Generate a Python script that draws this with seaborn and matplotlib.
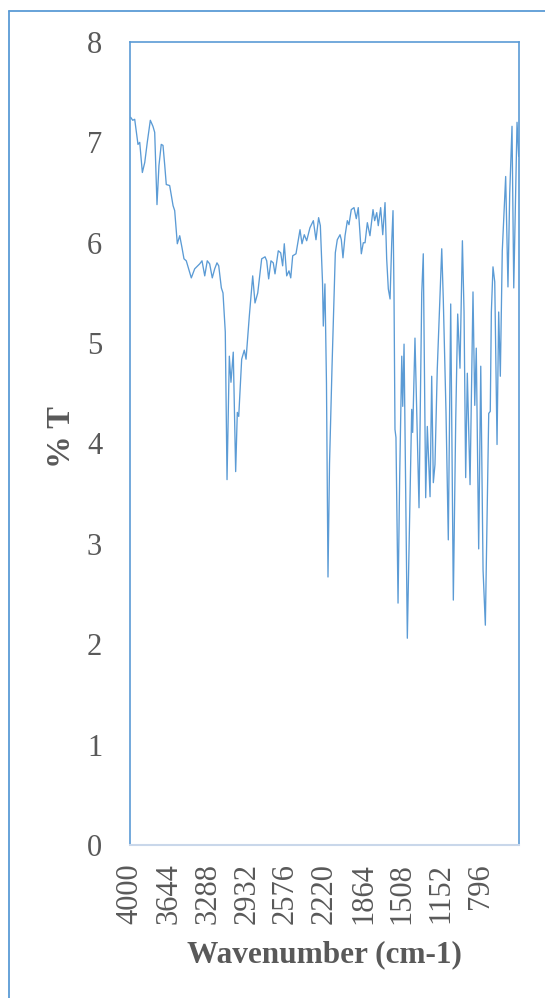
import numpy as np
import pandas as pd
import seaborn as sns
import matplotlib
matplotlib.use("Agg")
import matplotlib.pyplot as plt
from matplotlib.lines import Line2D

# Wavenumber (cm-1) and % T
wavenumber = [
    3994, 3975, 3957, 3927, 3911, 3887, 3865, 3842, 3814, 3790, 3774, 3753, 3735,
    3714, 3698, 3682, 3668, 3637, 3606, 3591, 3567, 3545, 3524, 3506, 3485, 3439,
    3408, 3362, 3341, 3316, 3293, 3271, 3247, 3225, 3204, 3188, 3164, 3149, 3128,
    3112, 3091, 3076, 3055, 3033, 3018, 3005, 2978, 2954, 2938, 2908, 2877, 2856,
    2831, 2795, 2764, 2749, 2731, 2710, 2689, 2673, 2643, 2621, 2603, 2588, 2566,
    2545, 2529, 2511, 2481, 2444, 2426, 2405, 2383, 2353, 2322, 2298, 2274, 2258,
    2238, 2231, 2216, 2202, 2188, 2174, 2151, 2121, 2103, 2078, 2066, 2051, 2032,
    2011, 1996, 1975, 1950, 1929, 1911, 1883, 1865, 1849, 1828, 1804, 1776, 1761,
    1742, 1728, 1706, 1687, 1666, 1651, 1636, 1620, 1605, 1593, 1584, 1575, 1566,
    1547, 1532, 1513, 1504, 1492, 1462, 1422, 1413, 1392, 1355, 1330, 1316, 1294,
    1279, 1254, 1239, 1224, 1209, 1188, 1147, 1133, 1108, 1087, 1065, 1041, 1019,
    1001, 980, 958, 943, 928, 913, 888, 861, 845, 831, 809, 790, 769, 748, 717,
    703, 693, 678, 662, 641, 626, 611, 593, 562, 541, 525, 504, 488, 458, 443,
]
transmittance = [
    7.25, 7.22, 7.23, 6.98, 7.00, 6.70, 6.80, 7.00, 7.22, 7.16, 7.10, 6.38, 6.77,
    6.98, 6.97, 6.77, 6.58, 6.57, 6.37, 6.32, 5.99, 6.07, 5.95, 5.84, 5.82, 5.65,
    5.74, 5.79, 5.82, 5.67, 5.82, 5.79, 5.65, 5.74, 5.80, 5.77, 5.55, 5.50, 5.11,
    3.64, 4.87, 4.61, 4.91, 3.72, 4.31, 4.27, 4.84, 4.93, 4.84, 5.27, 5.67, 5.40,
    5.50, 5.84, 5.86, 5.82, 5.64, 5.82, 5.80, 5.69, 5.92, 5.90, 5.77, 5.99, 5.67,
    5.72, 5.65, 5.87, 5.89, 6.13, 5.99, 6.08, 6.02, 6.15, 6.22, 6.03, 6.25, 6.17,
    5.60, 5.17, 5.59, 4.60, 2.67, 3.80, 4.77, 5.90, 6.03, 6.08, 6.03, 5.85, 6.07,
    6.22, 6.18, 6.33, 6.35, 6.24, 6.35, 5.89, 6.00, 6.00, 6.20, 6.07, 6.33, 6.22,
    6.30, 6.17, 6.35, 6.08, 6.40, 5.84, 5.54, 5.44, 6.00, 6.32, 5.50, 4.14, 4.06,
    2.41, 3.67, 4.87, 4.37, 4.99, 2.06, 4.34, 4.11, 5.05, 3.36, 5.50, 5.89, 3.46,
    4.17, 3.47, 4.67, 3.61, 3.79, 4.74, 5.94, 5.44, 4.31, 3.04, 5.39, 2.44, 4.24,
    5.29, 4.75, 6.02, 5.31, 3.66, 4.70, 3.59, 5.51, 4.38, 4.95, 2.95, 4.77, 2.74,
    2.19, 4.30, 4.32, 5.31, 5.76, 5.61, 3.99, 5.31, 4.67, 5.92, 6.66, 5.56, 6.49,
    7.16, 5.55, 7.20, 6.86,
]
x_ticks = [4000, 3644, 3288, 2932, 2576, 2220, 1864, 1508, 1152, 796]
y_ticks = [0, 1, 2, 3, 4, 5, 6, 7, 8]
x_label = "Wavenumber (cm-1)"
y_label = "% T"

df = pd.DataFrame({"wn": wavenumber, "T": transmittance})

sns.set_theme(style="white")
plt.rcParams["font.family"] = ["Liberation Serif", "DejaVu Serif"]

W, H = 545, 998
fig = plt.figure(figsize=(W / 100, H / 100), dpi=100)
fig.patch.set_facecolor("white")
ax = fig.add_axes([130 / W, (H - 845) / H, 389 / W, (845 - 42) / H])

blue = "#5B9BD5"
sns.lineplot(data=df, x="wn", y="T", ax=ax, color=blue, linewidth=0.95,
             estimator=None, sort=False)

ax.set_xlim(4000, 440)
ax.set_ylim(0, 8)
ax.set_xticks(x_ticks)
ax.set_xticklabels([str(t) for t in x_ticks], rotation=90)
ax.set_yticks(y_ticks)
ax.set_yticklabels([str(t) for t in y_ticks])
ax.tick_params(axis="both", length=0, labelsize=22, labelcolor="#595959")
ax.tick_params(axis="y", pad=20)
ax.tick_params(axis="x", pad=13)

ax.set_xlabel(x_label, fontsize=22.5, fontweight="bold", color="#595959")
ax.xaxis.set_label_coords(0.5, -(955 - 845) / (845 - 42), transform=ax.transAxes)
ax.xaxis.label.set_va("center")
ax.set_ylabel(y_label, fontsize=23.5, fontweight="bold", color="#595959")
ax.yaxis.set_label_coords(-(130 - 62) / 389, (845 - 437) / (845 - 42), transform=ax.transAxes)
ax.yaxis.label.set_va("center")

for side in ["left", "top", "right"]:
    ax.spines[side].set_color(blue)
    ax.spines[side].set_linewidth(1.2)
ax.spines["bottom"].set_color("#C9D7EA")
ax.spines["bottom"].set_linewidth(1.5)
ax.grid(False)

# outer chart border (left and top edges visible)
fig.add_artist(Line2D([8.5 / W, 8.5 / W], [0, (H - 10.5) / H], transform=fig.transFigure,
                      color=blue, linewidth=1.3))
fig.add_artist(Line2D([8.5 / W, 1.0], [(H - 10.5) / H, (H - 10.5) / H],
                      transform=fig.transFigure, color=blue, linewidth=1.3))

fig.savefig("out.png", dpi=100)
